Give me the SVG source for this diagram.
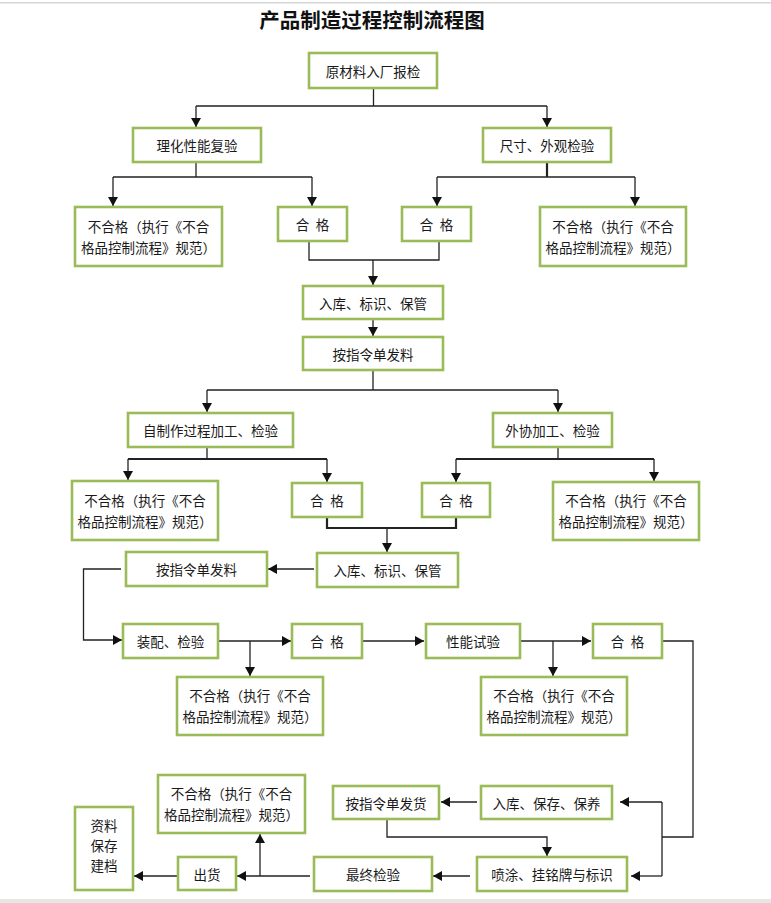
<svg xmlns="http://www.w3.org/2000/svg" width="771" height="903" viewBox="0 0 771 903">
<style>
.b{fill:#fff;stroke:#9bbb59;stroke-width:2.6}
.t{font-family:"Noto Sans CJK SC","Noto Sans",sans-serif;font-size:13.5px;fill:#1a1a1a;text-anchor:middle;dominant-baseline:central}
.g{word-spacing:3.5px}
.c{fill:none;stroke:#222;stroke-width:1.3}
.k{stroke-width:2.2}
.a{marker-end:url(#ah)}
</style>
<defs>
<marker id="ah" markerUnits="userSpaceOnUse" markerWidth="9" markerHeight="10" viewBox="0 0 9 10" refX="9" refY="5" orient="auto">
<path d="M0,0 L9,5 L0,10 z" fill="#111"/>
</marker>
</defs>
<rect x="0" y="2" width="771" height="1.5" fill="#d6d6d6"/>
<rect x="0" y="899" width="771" height="4" fill="#e6e6e6"/>
<text x="372" y="19" style="font-family:'Noto Sans CJK SC',sans-serif;font-size:20.5px;font-weight:bold;fill:#111;text-anchor:middle;dominant-baseline:central">产品制造过程控制流程图</text>

<g id="connectors">
<path class="c" d="M373.5,88 V106 M196,106 H547"/>
<path class="c a" d="M196,106 V127"/>
<path class="c a" d="M547,106 V127"/>
<path class="c" d="M196,162 V177 M113,177 H312"/>
<path class="c a" d="M113,177 V206"/>
<path class="c a" d="M312,177 V206"/>
<path class="c k" d="M547,162 V177"/>
<path class="c" d="M437,177 H635"/>
<path class="c a" d="M437,177 V206"/>
<path class="c a" d="M635,177 V206"/>
<path class="c" d="M309,241 V260 H439 V241"/>
<path class="c a" d="M373,260 V285"/>
<path class="c a" d="M373,319 V336"/>
<path class="c" d="M373,370 V390 M207,390 H558"/>
<path class="c a" d="M207,390 V412"/>
<path class="c a" d="M558,390 V412"/>
<path class="c" d="M207,447 V459"/>
<path class="c k" d="M128,459 H327"/>
<path class="c a" d="M128,459 V480"/>
<path class="c a" d="M327,459 V482"/>
<path class="c" d="M558,447 V459"/>
<path class="c k" d="M456,459 H654"/>
<path class="c a" d="M456,459 V482"/>
<path class="c a" d="M654,459 V481"/>
<path class="c k" d="M327,517 V528 H456 V517"/>
<path class="c a" d="M387,528 V552"/>
<path class="c a" d="M314,569 H268"/>
<path class="c a" d="M121,569 H83.5 V640 H122"/>
<path class="c a" d="M218,641 H291"/>
<path class="c a" d="M250,641 V676"/>
<path class="c a" d="M362,641 H424"/>
<path class="c a" d="M520,641 H591"/>
<path class="c a" d="M553,641 V676"/>
<path class="c" d="M662,641 H693 V837 H662 M662,802 V876"/>
<path class="c a" d="M662,802 H620"/>
<path class="c a" d="M662,876 H631"/>
<path class="c a" d="M477,802 H441"/>
<path class="c a" d="M387,819 V837 H547 V856"/>
<path class="c a" d="M470,876 H433"/>
<path class="c a" d="M310,876 H237"/>
<path class="c a" d="M260,876 V834"/>
<path class="c a" d="M178,876 H134"/>
</g>

<g id="n1"><rect class="b" x="309" y="53" width="128" height="35"/><text class="t" x="373" y="70.5">原材料入厂报检</text></g>
<g id="n2"><rect class="b" x="133" y="128" width="128" height="34"/><text class="t" x="197" y="145">理化性能复验</text></g>
<g id="n3"><rect class="b" x="483" y="128" width="128" height="34"/><text class="t" x="547" y="145">尺寸、外观检验</text></g>
<g id="n4"><rect class="b" x="75" y="207" width="147" height="59"/><text class="t" x="148.5" y="226">不合格（执行《不合</text><text class="t" x="148.5" y="247">格品控制流程》规范）</text></g>
<g id="n5"><rect class="b" x="278" y="207" width="69" height="34"/><text class="t g" x="312.5" y="224">合 格</text></g>
<g id="n6"><rect class="b" x="402" y="207" width="69" height="34"/><text class="t g" x="436.5" y="224">合 格</text></g>
<g id="n7"><rect class="b" x="540" y="207" width="146" height="59"/><text class="t" x="613" y="226">不合格（执行《不合</text><text class="t" x="613" y="247">格品控制流程》规范）</text></g>
<g id="n8"><rect class="b" x="303" y="286" width="140" height="33"/><text class="t" x="373" y="302.5">入库、标识、保管</text></g>
<g id="n9"><rect class="b" x="303" y="337" width="140" height="33"/><text class="t" x="373" y="353.5">按指令单发料</text></g>
<g id="n10"><rect class="b" x="128" y="413" width="165" height="34"/><text class="t" x="210.5" y="430">自制作过程加工、检验</text></g>
<g id="n11"><rect class="b" x="493" y="413" width="119" height="34"/><text class="t" x="552.5" y="430">外协加工、检验</text></g>
<g id="n12"><rect class="b" x="72" y="481" width="146" height="59"/><text class="t" x="145" y="500">不合格（执行《不合</text><text class="t" x="145" y="521">格品控制流程》规范）</text></g>
<g id="n13"><rect class="b" x="292" y="483" width="70" height="34"/><text class="t g" x="327" y="500">合 格</text></g>
<g id="n14"><rect class="b" x="422" y="483" width="68" height="34"/><text class="t g" x="456" y="500">合 格</text></g>
<g id="n15"><rect class="b" x="553" y="482" width="146" height="58"/><text class="t" x="626" y="500">不合格（执行《不合</text><text class="t" x="626" y="521">格品控制流程》规范）</text></g>
<g id="n16"><rect class="b" x="317" y="553" width="141" height="34"/><text class="t" x="387.5" y="570">入库、标识、保管</text></g>
<g id="n17"><rect class="b" x="126" y="552" width="141" height="34"/><text class="t" x="196.5" y="569">按指令单发料</text></g>
<g id="n18"><rect class="b" x="123" y="624" width="95" height="34"/><text class="t" x="170.5" y="641">装配、检验</text></g>
<g id="n19"><rect class="b" x="292" y="624" width="70" height="34"/><text class="t g" x="327" y="641">合 格</text></g>
<g id="n20"><rect class="b" x="177" y="677" width="146" height="58"/><text class="t" x="250" y="695">不合格（执行《不合</text><text class="t" x="250" y="716">格品控制流程》规范）</text></g>
<g id="n21"><rect class="b" x="426" y="624" width="94" height="34"/><text class="t" x="473" y="641">性能试验</text></g>
<g id="n22"><rect class="b" x="593" y="624" width="69" height="34"/><text class="t g" x="627.5" y="641">合 格</text></g>
<g id="n23"><rect class="b" x="481" y="677" width="146" height="58"/><text class="t" x="554" y="695">不合格（执行《不合</text><text class="t" x="554" y="716">格品控制流程》规范）</text></g>
<g id="n24"><rect class="b" x="481" y="786" width="131" height="33"/><text class="t" x="546.5" y="802.5">入库、保存、保养</text></g>
<g id="n25"><rect class="b" x="333" y="786" width="106" height="33"/><text class="t" x="386" y="802.5">按指令单发货</text></g>
<g id="n26"><rect class="b" x="477" y="857" width="150" height="34"/><text class="t" x="552" y="874">喷涂、挂铭牌与标识</text></g>
<g id="n27"><rect class="b" x="314" y="857" width="118" height="34"/><text class="t" x="373" y="874">最终检验</text></g>
<g id="n28"><rect class="b" x="158" y="775" width="147" height="58"/><text class="t" x="231.5" y="793">不合格（执行《不合</text><text class="t" x="231.5" y="814">格品控制流程》规范）</text></g>
<g id="n29"><rect class="b" x="178" y="857" width="58" height="33"/><text class="t" x="207" y="873.5">出货</text></g>
<g id="n30"><rect class="b" x="75" y="807" width="58" height="83"/><text class="t" x="104" y="825">资料</text><text class="t" x="104" y="845">保存</text><text class="t" x="104" y="865">建档</text></g>
</svg>
